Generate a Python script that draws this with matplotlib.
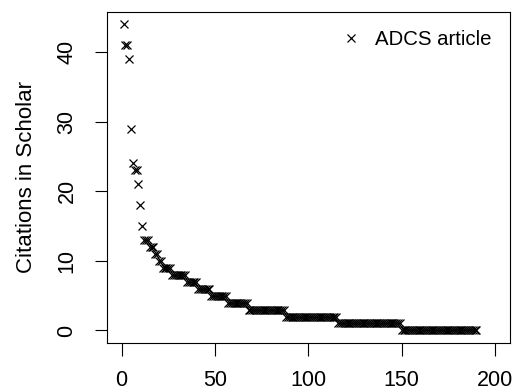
import matplotlib
matplotlib.use("Agg")
import matplotlib.pyplot as plt
import numpy as np

plt.rcParams['font.family'] = ['Liberation Sans', 'DejaVu Sans']

# citation counts (sorted)
top_values = [44, 41, 41, 39, 29, 24, 23, 23, 21, 18, 15]
# (value, number of articles) for the flat runs after the top ones
runs_values = [13, 12, 11, 10, 9, 8, 7, 6, 5, 4, 3, 2, 1, 0]
runs_counts = [3, 3, 2, 2, 5, 8, 6, 7, 9, 11, 20, 28, 34, 41]

citations = list(top_values)
for v, n in zip(runs_values, runs_counts):
    citations += [v] * n
articles = np.arange(1, len(citations) + 1)

x_ticks = [0, 50, 100, 150, 200]
y_ticks = [0, 10, 20, 30, 40]

fig = plt.figure(figsize=(5.15, 3.92), dpi=100)
ax = fig.add_axes([0.2072, 0.1258, 0.7831, 0.8436])

ax.plot(articles, citations, linestyle='none', marker='x', color='black',
        markersize=5.8, markeredgewidth=0.9, label='ADCS article')

ax.set_xlim(-8, 208)
ax.set_ylim(-1.76, 45.76)
ax.set_xticks(x_ticks)
ax.set_yticks(y_ticks)
ax.set_yticklabels([str(t) for t in y_ticks], rotation=90, va='center')
ax.tick_params(axis='both', length=9, width=0.8, labelsize=15.5, direction='out')
ax.tick_params(axis='x', pad=11)
ax.tick_params(axis='y', pad=12)
for s in ax.spines.values():
    s.set_linewidth(0.8)

ax.set_ylabel('Citations in Scholar', fontsize=16, labelpad=14)

ax.legend(loc='upper right', frameon=False, fontsize=14.7, handlelength=1.0,
          handletextpad=0.7, borderaxespad=0.5, markerscale=1.0)

fig.savefig('out.png', dpi=100)
